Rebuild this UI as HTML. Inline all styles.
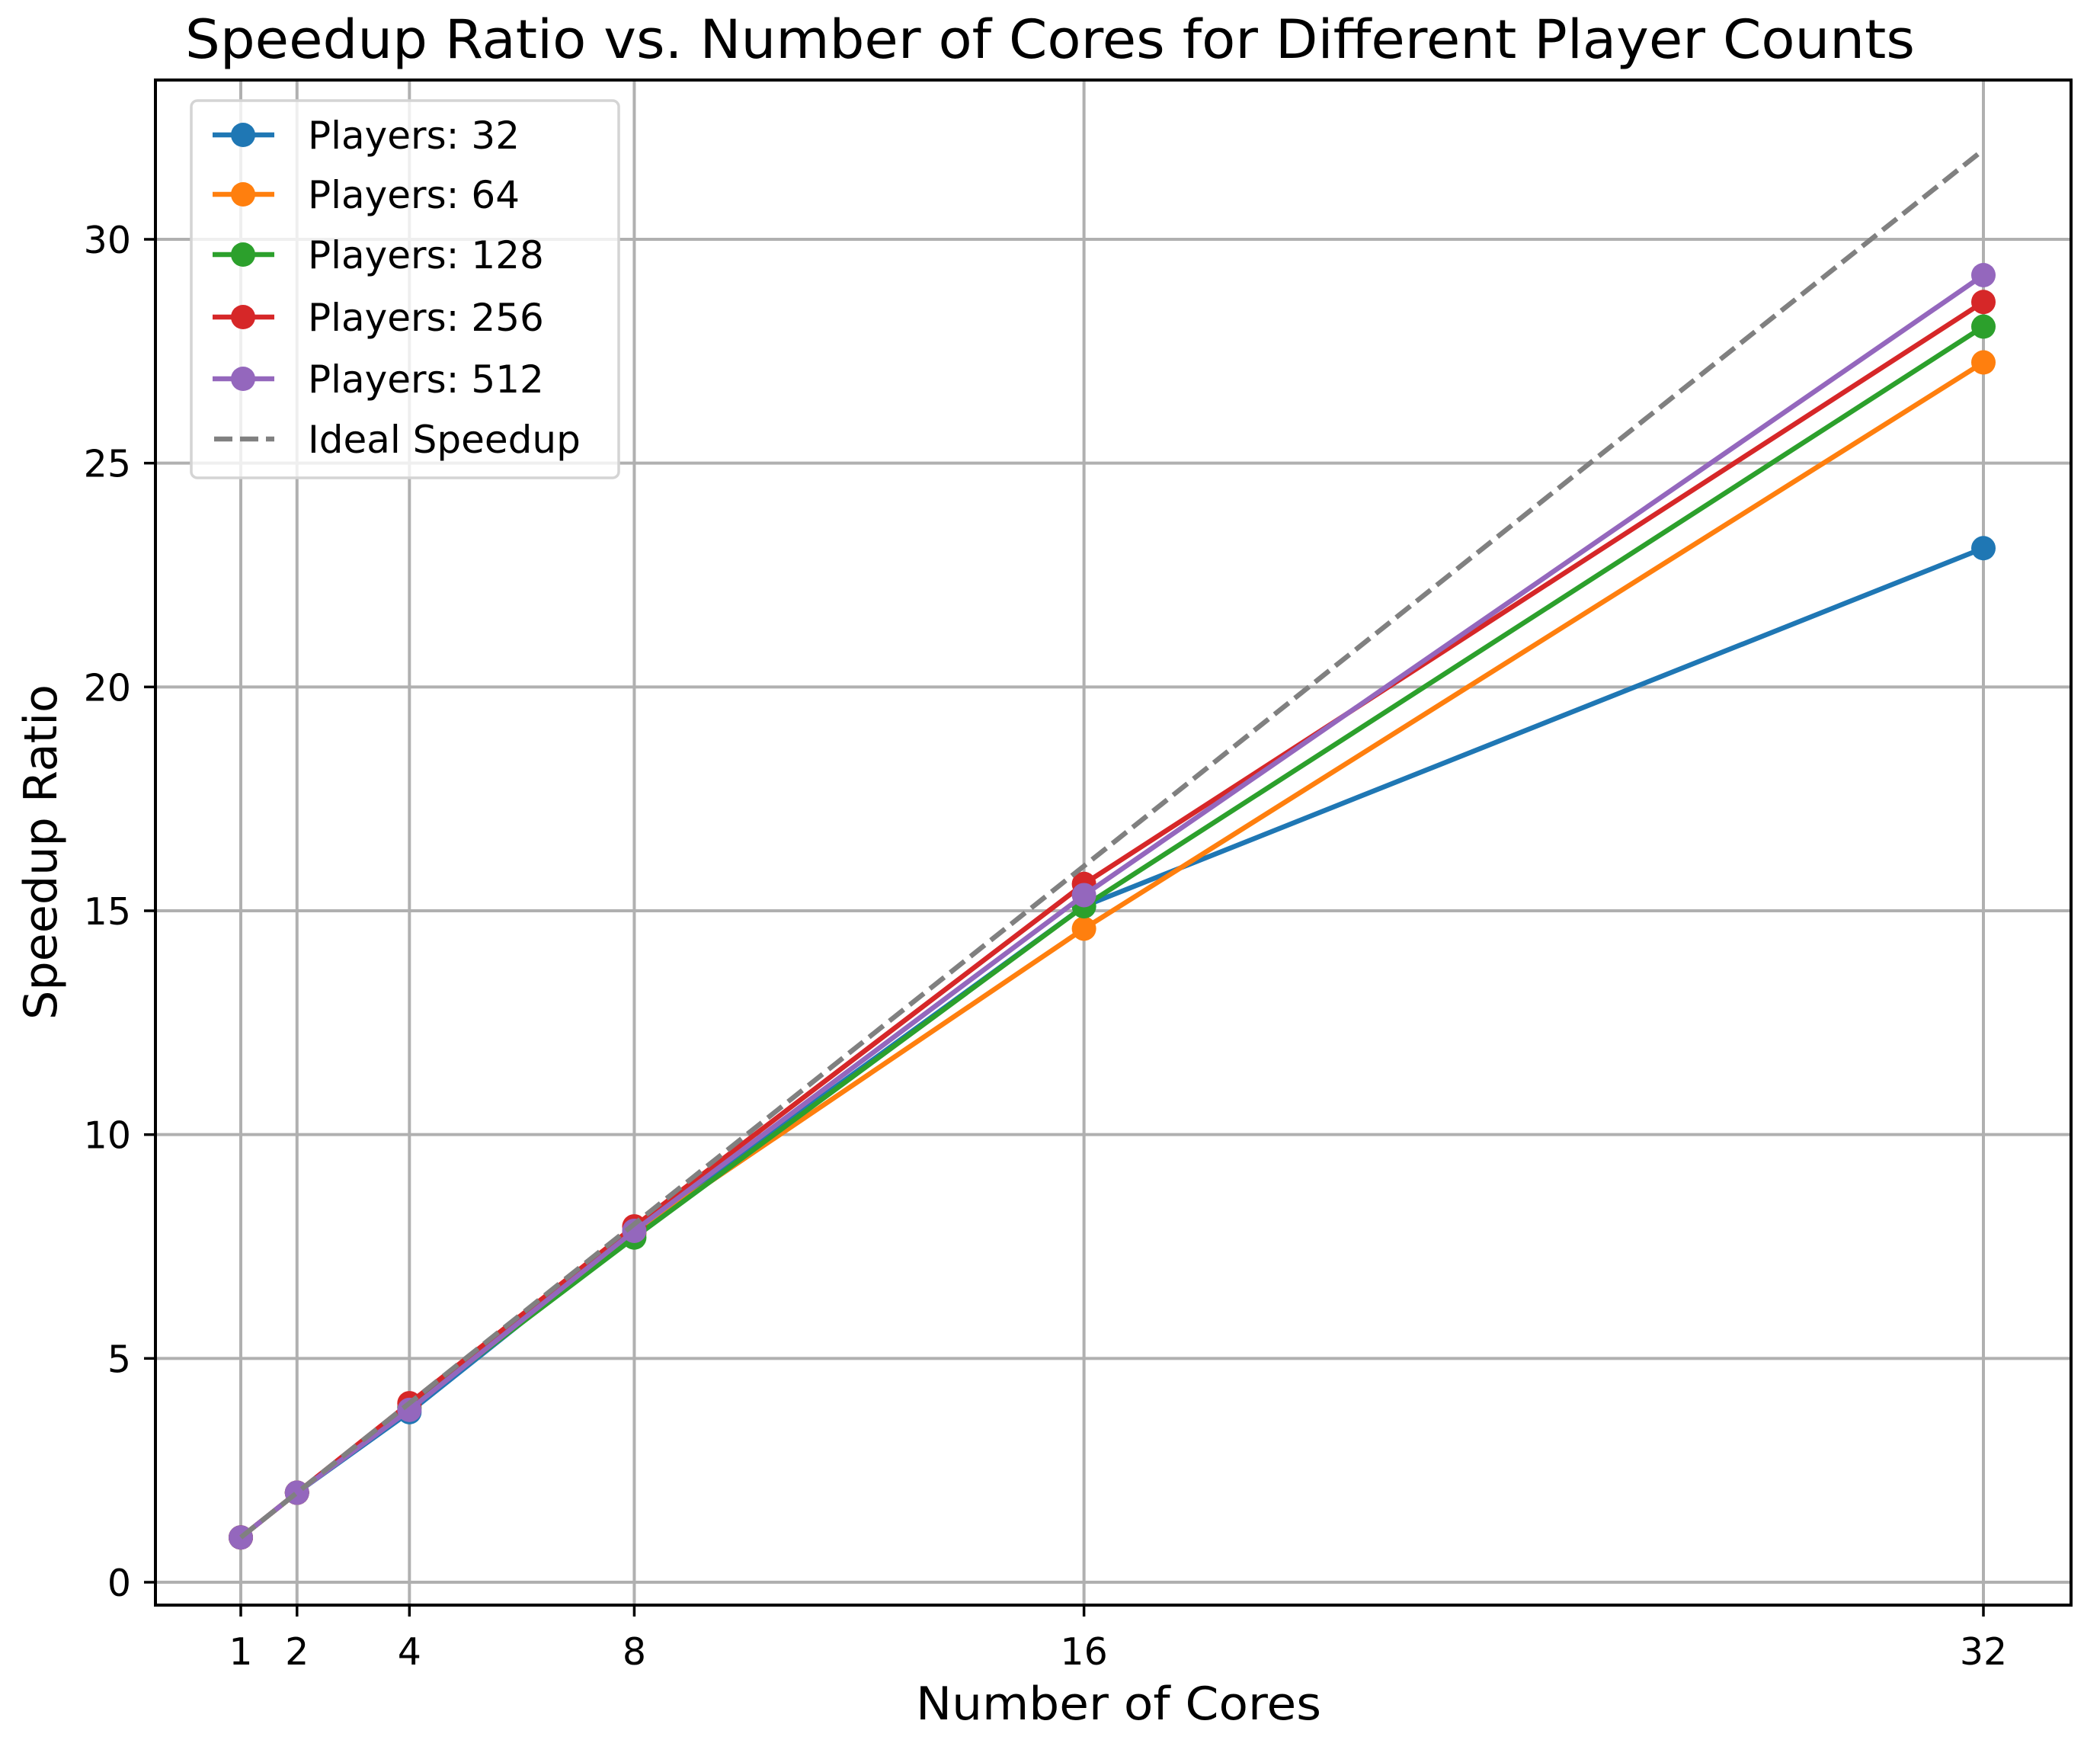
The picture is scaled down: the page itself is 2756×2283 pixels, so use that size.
<!DOCTYPE html>
<html><head><meta charset="utf-8"><style>body{margin:0;background:#fff}svg{display:block}</style></head>
<body>
<svg id="chart" width="2756" height="2283" xmlns="http://www.w3.org/2000/svg" font-family="'DejaVu Sans','Liberation Sans',sans-serif">
<rect width="2756" height="2283" fill="#fff"/>
<text x="1378" y="76" font-size="70" text-anchor="middle" textLength="2270" lengthAdjust="spacingAndGlyphs">Speedup Ratio vs. Number of Cores for Different Player Counts</text>
<g id="grid"></g><g id="series"></g>
<rect x="204" y="105" width="2514" height="2001" fill="none" stroke="#000" stroke-width="4"/>
<g id="ticks"></g>
<text x="1468" y="2256" font-size="60" text-anchor="middle" textLength="532" lengthAdjust="spacingAndGlyphs">Number of Cores</text>
<text transform="translate(74,1118) rotate(-90)" font-size="60" text-anchor="middle" textLength="440" lengthAdjust="spacingAndGlyphs">Speedup Ratio</text>
<g id="legend"></g>
</svg>
<script>
const cores=[1,2,4,8,16,32];
const p32=[1,2,3.8,7.8,15.1,23.1];
const p64=[1,2,3.9,7.8,14.6,27.25];
const p128=[1,2,3.9,7.7,15.1,28.05];
const p256=[1,2,4.0,7.95,15.6,28.6];
const p512=[1,2,3.85,7.85,15.35,29.2];
const ideal=[1,2,4,8,16,32];
const yTicks=[0,5,10,15,20,25,30];
const seriesNames=["Players: 32","Players: 64","Players: 128","Players: 256","Players: 512"];
const colors=["#1f77b4","#ff7f0e","#2ca02c","#d62728","#9467bd"];
const NS="http://www.w3.org/2000/svg";
const X=v=>316+(v-1)*(2603-316)/31;
const Y=v=>2076-v*(2076-314)/30;
function mk(tag,attrs,parent){const e=document.createElementNS(NS,tag);for(const k in attrs)e.setAttribute(k,attrs[k]);parent.appendChild(e);return e;}
const grid=document.getElementById('grid'),ticks=document.getElementById('ticks'),ser=document.getElementById('series'),leg=document.getElementById('legend');
cores.forEach(c=>{
 const g=mk('line',{x1:X(c),x2:X(c),y1:105,y2:2106,stroke:'#b0b0b0','stroke-width':4},grid);
 
 
 const t=mk('line',{x1:X(c),x2:X(c),y1:2106,y2:2121,stroke:'#000','stroke-width':3.5},ticks);
 
 
 const l=mk('text',{x:X(c),y:2184,'font-size':49,'text-anchor':'middle'},ticks);l.textContent=c;
 
 
});
yTicks.forEach(v=>{
 const g=mk('line',{x1:204,x2:2718,y1:Y(v),y2:Y(v),stroke:'#b0b0b0','stroke-width':4},grid);
 
 
 const t=mk('line',{x1:189,x2:204,y1:Y(v),y2:Y(v),stroke:'#000','stroke-width':3.5},ticks);
 
 
 const l=mk('text',{x:172,y:Y(v)+18,'font-size':49,'text-anchor':'end'},ticks);l.textContent=v;
 
 
});
const all=[p32,p64,p128,p256,p512];
all.forEach((d,i)=>{
 const pl=mk('polyline',{points:cores.map((c,j)=>X(c)+','+Y(d[j])).join(' '),fill:'none',stroke:colors[i],'stroke-width':6.5,'stroke-linejoin':'round'},ser);
 
 
 cores.forEach((c,j)=>{const m=mk('circle',{cx:X(c),cy:Y(d[j]),r:16,fill:colors[i]},ser);
 
 });
});
const il=mk('polyline',{points:cores.map((c,j)=>X(c)+','+Y(ideal[j])).join(' '),fill:'none',stroke:'#808080','stroke-width':6.5,'stroke-dasharray':'24 10'},ser);


const box=mk('rect',{x:251,y:132,width:561,height:495,rx:8,fill:'#fff','fill-opacity':0.8,stroke:'#d4d4d4','stroke-width':3.5},leg);


const ly=[177,255,334,416,497,576];
seriesNames.concat(["Ideal Speedup"]).forEach((n,i)=>{
 const g=mk('g',{},leg);
 
 
 if(i<5){mk('line',{x1:279,x2:360,y1:ly[i],y2:ly[i],stroke:colors[i],'stroke-width':6.5},g);mk('circle',{cx:319,cy:ly[i],r:16,fill:colors[i]},g);}
 else mk('line',{x1:281,x2:360,y1:ly[i],y2:ly[i],stroke:'#808080','stroke-width':6.5,'stroke-dasharray':'24 10'},g);
 const t=mk('text',{x:404,y:ly[i]+18,'font-size':50},g);t.textContent=n;
});
</script>
</body></html>
